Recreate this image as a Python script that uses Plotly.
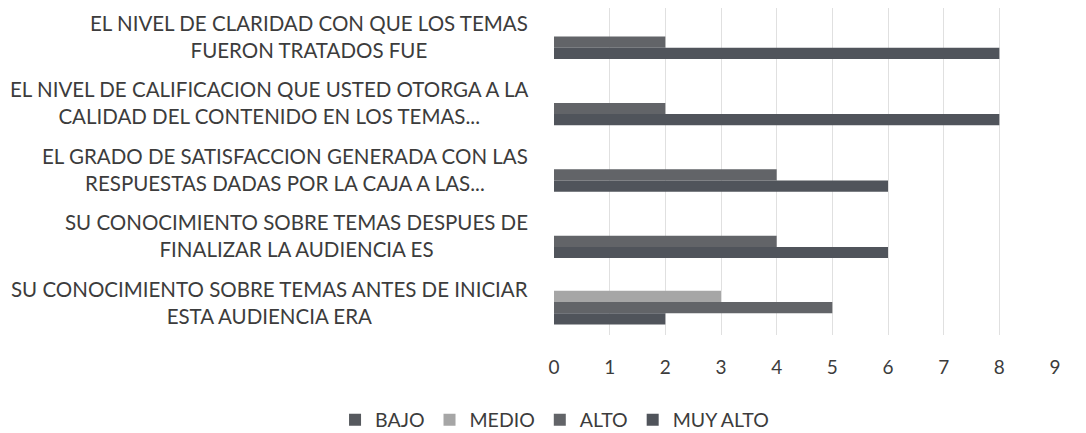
import plotly.graph_objects as go

categories = [
    "EL NIVEL DE CLARIDAD CON QUE LOS TEMAS<br>FUERON TRATADOS FUE",
    "EL NIVEL DE CALIFICACION QUE USTED OTORGA A LA<br>CALIDAD DEL CONTENIDO EN LOS TEMAS...",
    "EL GRADO DE SATISFACCION GENERADA CON LAS<br>RESPUESTAS DADAS POR LA CAJA A LAS...",
    "SU CONOCIMIENTO SOBRE TEMAS DESPUES DE<br>FINALIZAR LA AUDIENCIA ES",
    "SU CONOCIMIENTO SOBRE TEMAS ANTES DE INICIAR<br>ESTA AUDIENCIA ERA",
]
series_names = ["BAJO", "MEDIO", "ALTO", "MUY ALTO"]
bajo = [0, 0, 0, 0, 0]
medio = [0, 0, 0, 0, 3]
alto = [2, 2, 4, 4, 5]
muy_alto = [8, 8, 6, 6, 2]
x_ticks = [0, 1, 2, 3, 4, 5, 6, 7, 8, 9]

colors = ["#56595e", "#a6a6a6", "#626468", "#50545b"]
FONT = "Lato"
TEXT = "#3c3c3c"

fig = go.Figure()
for name, vals, col in zip(series_names, [bajo, medio, alto, muy_alto], colors):
    fig.add_trace(go.Bar(
        y=categories, x=vals, name=name, orientation="h",
        marker=dict(color=col, line=dict(width=0)),
    ))

for cat in categories:
    fig.add_annotation(
        x=0, xref="paper", y=cat, yref="y", text=cat,
        xanchor="right", yanchor="middle", xshift=-24, yshift=0, align="center",
        showarrow=False, font=dict(family=FONT, size=20.5, color=TEXT),
    )

# page has an 8px body margin, so the figure is sized to fit the window
fig.update_layout(
    width=1078, height=425,
    margin=dict(l=546, r=31, t=0, b=98, autoexpand=False),
    paper_bgcolor="white", plot_bgcolor="white",
    barmode="group", bargap=0.325, bargroupgap=0,
    font=dict(family=FONT, size=20, color=TEXT),
    showlegend=True,
    legend=dict(
        orientation="h", xref="container", yref="paper",
        x=0.507, y=-0.26, xanchor="center", yanchor="middle",
        font=dict(family=FONT, size=19.5, color=TEXT),
        itemwidth=30, tracegroupgap=0,
    ),
    xaxis=dict(
        range=[0, 9], tickvals=x_ticks, showgrid=True, gridcolor="#e0e0e0",
        gridwidth=1, zeroline=False, showline=False, ticks="",
        ticklabelstandoff=19, tickfont=dict(family=FONT, size=19, color=TEXT),
    ),
    yaxis=dict(
        categoryorder="array", categoryarray=categories,
        range=[4.496, -0.429],
        showticklabels=False, showgrid=False, zeroline=False, showline=False,
        ticks="",
    ),
)

fig.write_html("out.html")
